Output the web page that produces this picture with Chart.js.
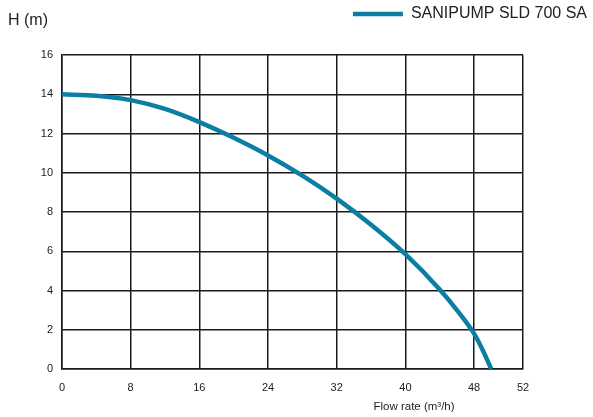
<!DOCTYPE html>
<html>
<head>
<meta charset="utf-8">
<script src="https://cdn.jsdelivr.net/npm/chart.js@4"></script>
<style>
  html, body { margin: 0; padding: 0; background: #fff; }
  #wrap { width: 593px; height: 417px; }
</style>
</head>
<body>
<div id="wrap"><canvas id="myChart"></canvas></div>
<script>
// pump curve
const flowRate = [0, 4, 8, 12, 16, 20, 24, 28, 32, 36, 40, 44, 46, 48, 49, 50];
const head = [14, 13.92, 13.7, 13.25, 12.58, 11.78, 10.88, 9.85, 8.68, 7.35, 5.85, 4.05, 3.0, 1.8, 0.97, 0];
const seriesName = "SANIPUMP SLD 700 SA";

// x axis: the last grid line sits at the box edge and is labelled "52"
const xTickValues = [0, 8, 16, 24, 32, 40, 48, 53.7];
const xTickLabels = ["0", "8", "16", "24", "32", "40", "48", "52"];
const yTickValues = [0, 2, 4, 6, 8, 10, 12, 14, 16];

const lineColor = "#0b7ea3";
const gridColor = "#1a1a1a";

document.addEventListener("DOMContentLoaded", function () {
    const ctx = document.getElementById("myChart");

    const extras = {
        id: "extras",
        beforeInit(chart) {
            const fit = chart.legend.fit;
            chart.legend.fit = function () {
                fit.call(this);
                this.height = 55;
            };
        },
        afterDraw(chart) {
            const c = chart.ctx;
            c.save();
            c.fillStyle = "#222";
            c.font = "16px 'Liberation Sans', Arial, sans-serif";
            c.textBaseline = "middle";
            c.textAlign = "left";
            c.fillText("H (m)", 8, 21);
            c.font = "11.5px 'Liberation Sans', Arial, sans-serif";
            c.textAlign = "center";
            c.fillText("Flow rate (m\u00b3/h)", 414, 407);
            c.restore();
        },
    };

    new Chart(ctx, {
        type: "line",
        data: {
            datasets: [
                {
                    label: seriesName,
                    data: flowRate.map((x, i) => ({ x: x, y: head[i] })),
                    borderColor: lineColor,
                    backgroundColor: lineColor,
                    borderWidth: 4.5,
                    pointRadius: 0,
                    cubicInterpolationMode: "monotone",
                    fill: false,
                },
            ],
        },
        options: {
            responsive: true,
            maintainAspectRatio: false,
            animation: false,
            layout: { padding: 0 },
            plugins: {
                tooltip: { enabled: false },
                legend: {
                    position: "top",
                    align: "end",
                    labels: {
                        usePointStyle: true,
                        pointStyle: "line",
                        pointStyleWidth: 50,
                        padding: 6,
                        color: "#222",
                        font: { size: 16, family: "'Liberation Sans', Arial, sans-serif" },
                    },
                },
            },
            scales: {
                x: {
                    type: "linear",
                    min: 0,
                    max: xTickValues[xTickValues.length - 1],
                    afterBuildTicks: (scale) => {
                        scale.ticks = xTickValues.map((v) => ({ value: v }));
                    },
                    afterFit: (scale) => {
                        scale.height = 48;
                    },
                    ticks: {
                        autoSkip: false,
                        maxRotation: 0,
                        padding: 12,
                        color: "#222",
                        font: { size: 11, family: "'Liberation Sans', Arial, sans-serif" },
                        callback: (value, index) => xTickLabels[index],
                    },
                    grid: { color: gridColor, lineWidth: 1.5, drawTicks: false },
                    border: { color: gridColor, width: 1.5 },
                },
                y: {
                    min: 0,
                    max: 16,
                    afterBuildTicks: (scale) => {
                        scale.ticks = yTickValues.map((v) => ({ value: v }));
                    },
                    afterFit: (scale) => {
                        scale.width = 62;
                    },
                    ticks: {
                        padding: 9,
                        color: "#222",
                        font: { size: 11, family: "'Liberation Sans', Arial, sans-serif" },
                    },
                    grid: { color: gridColor, lineWidth: 1.5, drawTicks: false },
                    border: { color: gridColor, width: 1.5 },
                },
                yRight: {
                    position: "right",
                    min: 0,
                    max: 16,
                    afterFit: (scale) => {
                        scale.width = 70;
                    },
                    ticks: { display: false },
                    grid: { display: false },
                    border: { display: false },
                },
            },
        },
        plugins: [extras],
    });
});
</script>
</body>
</html>
